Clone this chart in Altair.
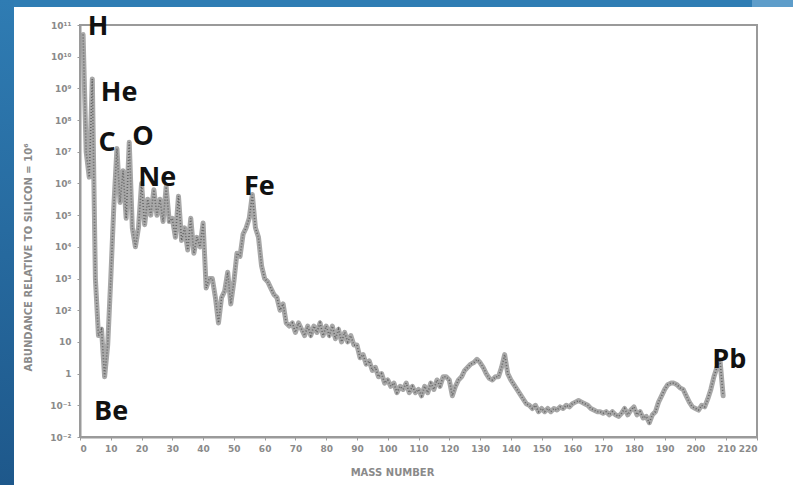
import altair as alt
import pandas as pd

# Mass number of each nuclide plotted along the curve
mass_number = list(range(1, 210))

# log10 of abundance relative to silicon = 10^6, one value per mass number
log_abundance = [
    10.7, 7.0, 6.2, 9.3, 3.0, 1.2, 1.4, -0.1, 0.9, 3.0,          # 1-10
    5.3, 7.1, 5.4, 6.4, 4.9, 7.3, 4.6, 4.0, 4.6, 6.0,            # 11-20
    4.7, 5.5, 5.0, 5.8, 5.0, 5.5, 4.8, 5.9, 4.8, 4.9,            # 21-30
    4.3, 5.6, 4.2, 4.6, 3.9, 4.9, 3.8, 4.3, 4.0, 4.75,           # 31-40
    2.7, 3.0, 3.0, 2.4, 1.6, 2.4, 2.6, 3.2, 2.2, 2.9,            # 41-50
    3.8, 3.7, 4.4, 4.6, 4.9, 5.65, 4.6, 4.3, 3.4, 3.0,           # 51-60
    2.9, 2.7, 2.5, 2.4, 2.0, 2.2, 1.6, 1.5, 1.6, 1.3,            # 61-70
    1.6, 1.4, 1.2, 1.5, 1.2, 1.5, 1.3, 1.6, 1.2, 1.5,            # 71-80
    1.2, 1.5, 1.1, 1.4, 1.0, 1.3, 1.0, 1.2, 0.9, 0.9,            # 81-90
    0.5, 0.6, 0.3, 0.4, 0.1, 0.2, -0.1, 0.0, -0.3, -0.2,         # 91-100
    -0.4, -0.3, -0.6, -0.4, -0.5, -0.3, -0.6, -0.4, -0.6, -0.5,  # 101-110
    -0.7, -0.4, -0.6, -0.3, -0.5, -0.2, -0.4, -0.1, -0.1, -0.2,  # 111-120
    -0.7, -0.4, -0.2, -0.1, 0.1, 0.2, 0.3, 0.35, 0.45, 0.35,     # 121-130
    0.2, 0.0, -0.15, -0.2, -0.1, -0.1, 0.2, 0.6, 0.0, -0.2,      # 131-140
    -0.35, -0.5, -0.65, -0.8, -0.95, -1.0, -1.1, -1.0, -1.2, -1.1,  # 141-150
    -1.2, -1.1, -1.2, -1.1, -1.15, -1.05, -1.1, -1.0, -1.05, -0.95,  # 151-160
    -0.9, -0.85, -0.9, -0.95, -1.0, -1.1, -1.15, -1.2, -1.2, -1.25,  # 161-170
    -1.2, -1.3, -1.2, -1.3, -1.35, -1.25, -1.1, -1.3, -1.15, -1.05,  # 171-180
    -1.3, -1.2, -1.4, -1.35, -1.55, -1.3, -1.2, -0.9, -0.7, -0.5,    # 181-190
    -0.35, -0.3, -0.3, -0.35, -0.45, -0.5, -0.7, -0.9, -1.05, -1.1,  # 191-200
    -1.15, -1.0, -1.05, -0.8, -0.5, -0.1, 0.2, 0.4, -0.7,            # 201-209
]

# Element labels placed beside their peaks (mass number, log10 abundance)
element_names = ["H", "He", "C", "O", "Ne", "Fe", "Be", "Pb"]
element_x = [5.9, 12.7, 8.8, 20.5, 25.1, 58.3, 10.1, 211.0]
element_y = [10.95, 8.85, 7.28, 7.47, 6.17, 5.89, -1.2, 0.43]

x_ticks = list(range(0, 221, 10))
y_ticks = list(range(-2, 12))

SUP = str.maketrans("-0123456789", "⁻⁰¹²³⁴⁵⁶⁷⁸⁹")


def power_label(k):
    if k == 0:
        return "1"
    if k == 1:
        return "10"
    return "10" + str(k).translate(SUP)


label_expr = "".join(f"datum.value == {k} ? '{power_label(k)}' : " for k in y_ticks) + "''"

curve = pd.DataFrame({"A": mass_number, "logN": log_abundance})
labels = pd.DataFrame({"name": element_names, "A": element_x, "logN": element_y})

W, H = 677, 412
PAD = {"left": 80, "top": 25, "right": 36, "bottom": 48}

x_enc = alt.X(
    "A:Q",
    scale=alt.Scale(domain=[0, 220], nice=False, zero=False),
    axis=alt.Axis(
        values=x_ticks, tickCount=40, title="MASS NUMBER", titleX=312, titleY=30,
        titleFontSize=10, titleFontWeight="bold", titleColor="#8a8a8a",
        labelFontSize=9, labelColor="#8a8a8a", labelPadding=4,
        labelOverlap=False, labelFontWeight="bold",
        domainColor="#9a9a9a", domainWidth=2, tickColor="#9a9a9a",
        tickSize=3, grid=False, zindex=1,
    ),
)
y_enc = alt.Y(
    "logN:Q",
    scale=alt.Scale(domain=[-2, 11], nice=False, zero=False),
    axis=alt.Axis(
        values=y_ticks, tickCount=40, labelExpr=label_expr, labelOverlap=False,
        labelFontWeight="bold",
        title="ABUNDANCE RELATIVE TO SILICON = 10⁶",
        titleX=-47, titleY=232, titleFontSize=10, titleFontWeight="bold",
        titleColor="#8a8a8a", titleAngle=270,
        labelFontSize=9, labelColor="#8a8a8a", labelPadding=6,
        domainColor="#9a9a9a", domainWidth=2, tickColor="#9a9a9a",
        tickSize=3, grid=False, zindex=1,
    ),
)

band = alt.Chart(curve).mark_line(
    color="#a8a8a8", strokeWidth=5, strokeJoin="round", strokeCap="round"
).encode(x=x_enc, y=y_enc, order="A:Q")

speckle = alt.Chart(curve).mark_line(
    color="#555555", strokeWidth=1.6, strokeDash=[1, 2], opacity=0.8
).encode(x="A:Q", y="logN:Q", order="A:Q")

text = alt.Chart(labels).mark_text(
    font="Open Sans", fontWeight="bold", fontSize=27, color="#111111",
    align="center", baseline="middle",
).encode(x="A:Q", y="logN:Q", text="name:N")

# Slide frame: blue strips along the top and the left edge
one = pd.DataFrame({"k": [0]})
top_strip = alt.Chart(one).mark_rect(color="#2f7db4").encode(
    x=alt.value(-80), x2=alt.value(W + 36), y=alt.value(-25), y2=alt.value(-18)
)
top_patch = alt.Chart(one).mark_rect(color="#5e9dca").encode(
    x=alt.value(672), x2=alt.value(W + 36), y=alt.value(-25), y2=alt.value(-18)
)
left_strip = alt.Chart(one).mark_rect(
    color=alt.Gradient(
        gradient="linear", x1=0, y1=0, x2=0, y2=1,
        stops=[alt.GradientStop(color="#2f7cb3", offset=0),
               alt.GradientStop(color="#1e588b", offset=1)],
    )
).encode(x=alt.value(-80), x2=alt.value(-66), y=alt.value(-25), y2=alt.value(H + 48))

chart = alt.layer(top_strip, top_patch, left_strip, band, speckle, text).properties(
    width=W, height=H, padding=PAD, autosize=alt.AutoSizeParams(type="none"),
    background="white",
).configure_view(stroke="#9a9a9a", strokeWidth=2).configure_axis(
    labelFont="DejaVu Sans", titleFont="DejaVu Sans"
)

chart.save("out.html", embed_options={"renderer": "svg", "actions": False})
